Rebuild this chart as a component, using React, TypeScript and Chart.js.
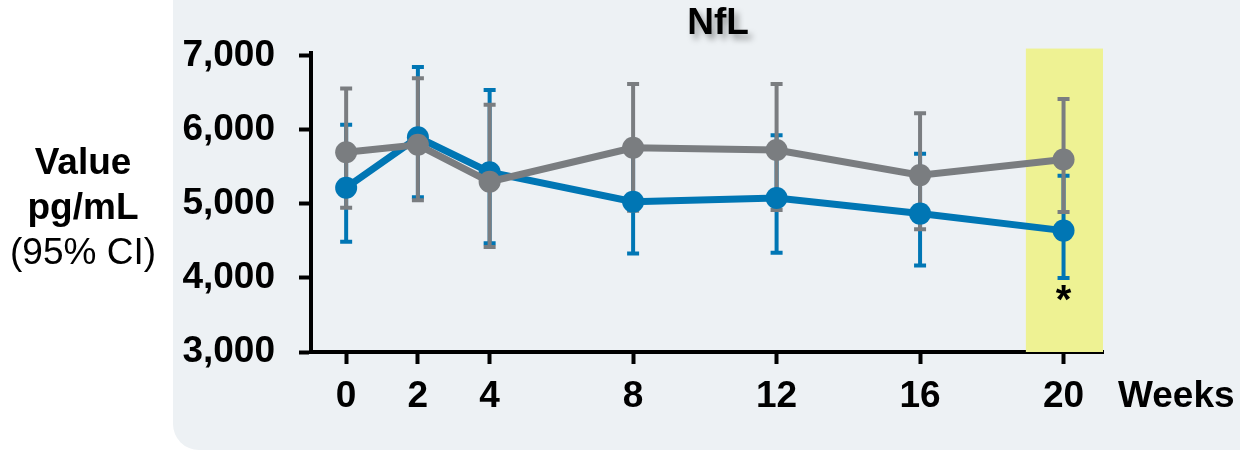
import React, { useEffect, useRef } from "react";
import { Chart, registerables } from "chart.js";

Chart.register(...registerables);

// Study visits (weeks) and NfL estimates with 95% CI
const weeks = [0, 2, 4, 8, 12, 16, 20];
const blueMean = [5220, 5900, 5430, 5030, 5080, 4870, 4640];
const blueLow = [4490, 5090, 4470, 4330, 4340, 4170, 4000];
const blueHigh = [6070, 6850, 6540, 5730, 5930, 5680, 5380];
const grayMean = [5700, 5800, 5300, 5760, 5730, 5390, 5600];
const grayLow = [4950, 5050, 4420, 4910, 4920, 4660, 4890];
const grayHigh = [6560, 6700, 6340, 6620, 6620, 6225, 6420];
const yTicks = [3000, 4000, 5000, 6000, 7000];
const highlightWeeks = [18.95, 21.1];
const highlightTop = 7100;
const starWeek = 20;
const starValue = 4000;

const BLUE = "#0076b4";
const GRAY = "#7a7d80";
const FONT = "'Liberation Sans', Arial, sans-serif";
const SIZE = 37;

type Band = { color: string; mean: number[]; low: number[]; high: number[] };
const bands: Band[] = [
  { color: BLUE, mean: blueMean, low: blueLow, high: blueHigh },
  { color: GRAY, mean: grayMean, low: grayLow, high: grayHigh },
];

const decorations = {
  id: "decorations",
  beforeDatasetsDraw(chart: any) {
    const { ctx, scales } = chart;
    const x = scales.x;
    const y = scales.y;
    ctx.save();
    // highlighted final visit
    ctx.fillStyle = "#eef293";
    const x0 = x.getPixelForValue(highlightWeeks[0]);
    const x1 = x.getPixelForValue(highlightWeeks[1]);
    const yt = y.getPixelForValue(highlightTop);
    const yb = y.getPixelForValue(yTicks[0]);
    ctx.fillRect(x0, yt, x1 - x0, yb - yt);
    // confidence intervals
    bands.forEach((b) => {
      ctx.strokeStyle = b.color;
      ctx.lineWidth = 4;
      ctx.lineCap = "butt";
      weeks.forEach((w, i) => {
        const px = x.getPixelForValue(w);
        const pl = y.getPixelForValue(b.low[i]);
        const ph = y.getPixelForValue(b.high[i]);
        ctx.beginPath();
        ctx.moveTo(px, pl);
        ctx.lineTo(px, ph);
        ctx.stroke();
        ctx.beginPath();
        ctx.moveTo(px - 6, pl);
        ctx.lineTo(px + 6, pl);
        ctx.moveTo(px - 6, ph);
        ctx.lineTo(px + 6, ph);
        ctx.stroke();
      });
    });
    ctx.restore();
  },
  afterDraw(chart: any) {
    const { ctx, scales, chartArea } = chart;
    const x = scales.x;
    const y = scales.y;
    ctx.save();
    ctx.fillStyle = "#000";
    // significance marker
    ctx.font = `bold 40px ${FONT}`;
    ctx.textAlign = "center";
    ctx.textBaseline = "alphabetic";
    ctx.fillText("*", x.getPixelForValue(starWeek), y.getPixelForValue(starValue) + 35);
    // x-axis unit
    ctx.font = `bold ${SIZE}px ${FONT}`;
    ctx.textAlign = "left";
    ctx.textBaseline = "middle";
    ctx.fillText("Weeks", chartArea.right + 15, chartArea.bottom + 45);
    // y-axis title
    ctx.textAlign = "center";
    ctx.textBaseline = "alphabetic";
    ctx.fillText("Value", 83, 174);
    ctx.fillText("pg/mL", 83, 219);
    ctx.font = `${SIZE}px ${FONT}`;
    ctx.fillText("(95% CI)", 83, 264);
    // title with soft shadow
    ctx.font = `bold ${SIZE}px ${FONT}`;
    ctx.textBaseline = "middle";
    ctx.shadowColor = "rgba(0,0,0,0.35)";
    ctx.shadowBlur = 6;
    ctx.shadowOffsetX = 4;
    ctx.shadowOffsetY = 5;
    ctx.fillText("NfL", (chartArea.left + chartArea.right) / 2 + 11, 24);
    ctx.restore();
  },
};

function NflChart() {
  const ref = useRef<HTMLCanvasElement>(null);
  useEffect(() => {
    document.body.style.margin = "0";
    const canvas = ref.current;
    if (!canvas) return;
    const chart = new Chart(canvas, {
      type: "line",
      data: {
        datasets: [
          {
            label: "Gray",
            data: weeks.map((w, i) => ({ x: w, y: grayMean[i] })),
            borderColor: GRAY,
            backgroundColor: GRAY,
            borderWidth: 7,
            pointRadius: 11,
            pointBorderWidth: 0,
            pointHoverRadius: 11,
          },
          {
            label: "Blue",
            data: weeks.map((w, i) => ({ x: w, y: blueMean[i] })),
            borderColor: BLUE,
            backgroundColor: BLUE,
            borderWidth: 7,
            pointRadius: 11,
            pointBorderWidth: 0,
            pointHoverRadius: 11,
          },
        ],
      },
      options: {
        animation: false,
        responsive: false,
        events: [],
        layout: { padding: { left: 0, right: 137, top: 53, bottom: 0 } },
        plugins: { legend: { display: false }, tooltip: { enabled: false }, title: { display: false } },
        scales: {
          x: {
            type: "linear",
            min: -0.98,
            max: 21.1,
            afterBuildTicks: (s: any) => {
              s.ticks = weeks.map((v) => ({ value: v }));
            },
            afterFit: (s: any) => {
              s.height = 99;
            },
            border: { display: true, color: "#000", width: 4 },
            grid: {
              display: true,
              drawOnChartArea: false,
              drawTicks: true,
              tickLength: 12,
              tickWidth: 4,
              tickColor: "#000",
            },
            ticks: {
              color: "#000",
              padding: 11,
              font: { family: FONT, size: SIZE, weight: "bold" },
              maxRotation: 0,
              autoSkip: false,
            },
          },
          y: {
            type: "linear",
            min: 3000,
            max: 7040,
            afterBuildTicks: (s: any) => {
              s.ticks = yTicks.map((v) => ({ value: v }));
            },
            afterFit: (s: any) => {
              s.width = 311;
            },
            border: { display: true, color: "#000", width: 4 },
            grid: {
              display: true,
              drawOnChartArea: false,
              drawTicks: true,
              tickLength: 12,
              tickWidth: 4,
              tickColor: "#000",
            },
            ticks: {
              color: "#000",
              padding: 24,
              font: { family: FONT, size: SIZE, weight: "bold" },
              callback: (v: any) => Number(v).toLocaleString("en-US"),
            },
          },
        },
      },
      plugins: [decorations],
    } as any);
    return () => chart.destroy();
  }, []);
  return <canvas ref={ref} width={1240} height={451} style={{ position: "absolute", left: 0, top: 0 }} />;
}

export default function App() {
  return (
    <div style={{ position: "absolute", left: 0, top: 0, width: 1240, height: 451, overflow: "hidden", background: "#fff" }}>
      <div
        style={{
          position: "absolute",
          left: 173,
          top: -40,
          width: 1120,
          height: 490,
          borderRadius: 26,
          background: "#edf1f4",
        }}
      />
      <NflChart />
    </div>
  );
}
